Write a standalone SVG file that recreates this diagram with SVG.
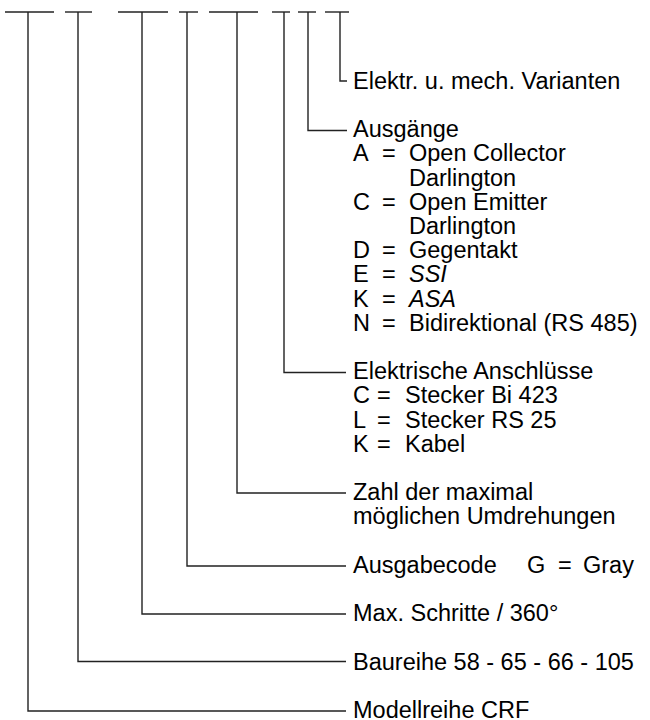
<svg xmlns="http://www.w3.org/2000/svg" width="650" height="720" viewBox="0 0 650 720">
  <style>
    .ln { fill: none; stroke: #222; stroke-width: 1.4; }
    .t { font-family: "Liberation Sans", Arial, Helvetica, sans-serif; font-size: 23.5px; fill: #000; }
    .i { font-style: italic; }
  </style>
  <rect width="650" height="720" fill="#fff"/>

  <!-- type-code field markers along the top -->
  <g id="code-fields" class="ln">
    <line x1="5" y1="12" x2="54" y2="12"/>
    <line x1="65" y1="12" x2="92" y2="12"/>
    <line x1="118" y1="12" x2="168" y2="12"/>
    <line x1="179" y1="12" x2="198" y2="12"/>
    <line x1="209" y1="12" x2="258" y2="12"/>
    <line x1="272" y1="12" x2="290" y2="12"/>
    <line x1="298" y1="12" x2="316" y2="12"/>
    <line x1="325" y1="12" x2="349" y2="12"/>
  </g>

  <!-- leader lines from each field to its description -->
  <g id="connectors" class="ln">
    <polyline points="28,12 28,711 346,711"/>
    <polyline points="78,12 78,661.5 346,661.5"/>
    <polyline points="142,12 142,614 346,614"/>
    <polyline points="187,12 187,566 346,566"/>
    <polyline points="237,12 237,493 346,493"/>
    <polyline points="284,12 284,372.5 346,372.5"/>
    <polyline points="308,12 308,130.5 347,130.5"/>
    <polyline points="340,12 340,81 347,81"/>
  </g>

  <g id="varianten" class="t">
    <text x="353" y="88.8">Elektr. u. mech. Varianten</text>
  </g>

  <g id="ausgaenge" class="t">
    <text x="353" y="137.2">Ausgänge</text>
    <text x="353" y="161.4">A</text><text x="382" y="161.4">=</text><text x="409" y="161.4">Open Collector</text>
    <text x="409" y="185.6">Darlington</text>
    <text x="353" y="209.8">C</text><text x="382" y="209.8">=</text><text x="409" y="209.8">Open Emitter</text>
    <text x="409" y="234">Darlington</text>
    <text x="353" y="258.2">D</text><text x="382" y="258.2">=</text><text x="409" y="258.2">Gegentakt</text>
    <text x="353" y="282.4">E</text><text x="382" y="282.4">=</text><text x="409" y="282.4" class="i">SSI</text>
    <text x="353" y="306.6">K</text><text x="382" y="306.6">=</text><text x="409" y="306.6" class="i">ASA</text>
    <text x="353" y="330.8">N</text><text x="382" y="330.8">=</text><text x="409" y="330.8">Bidirektional (RS 485)</text>
  </g>

  <g id="anschluesse" class="t">
    <text x="353" y="379.2">Elektrische Anschlüsse</text>
    <text x="353" y="403.4">C</text><text x="377" y="403.4">=</text><text x="405" y="403.4">Stecker Bi 423</text>
    <text x="353" y="427.6">L</text><text x="377" y="427.6">=</text><text x="405" y="427.6">Stecker RS 25</text>
    <text x="353" y="451.8">K</text><text x="377" y="451.8">=</text><text x="405" y="451.8">Kabel</text>
  </g>

  <g id="umdrehungen" class="t">
    <text x="353" y="500.2">Zahl der maximal</text>
    <text x="353" y="524.4">möglichen Umdrehungen</text>
  </g>

  <g id="ausgabecode" class="t">
    <text x="353" y="572.8">Ausgabecode</text>
    <text x="527" y="572.8">G</text>
    <text x="558" y="572.8">=</text>
    <text x="583" y="572.8">Gray</text>
  </g>

  <g id="schritte" class="t">
    <text x="353" y="621.2">Max. Schritte / 360°</text>
  </g>

  <g id="baureihe" class="t">
    <text x="353" y="669.6">Baureihe 58 - 65 - 66 - 105</text>
  </g>

  <g id="modellreihe" class="t">
    <text x="353" y="718">Modellreihe CRF</text>
  </g>
</svg>
